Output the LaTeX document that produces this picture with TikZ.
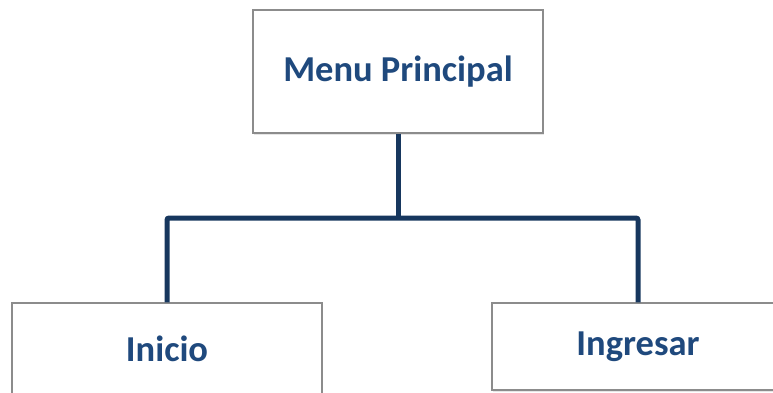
\documentclass[tikz,border=0pt]{standalone}
\usepackage{fontspec}
\setmainfont{Carlito}
\usetikzlibrary{shadows}

\definecolor{textblue}{RGB}{31,73,125}
\definecolor{linkblue}{RGB}{23,55,94}
\definecolor{boxgray}{RGB}{140,140,140}

\begin{document}
\begin{tikzpicture}[x=1pt,y=-1pt,
    box/.style={draw=boxgray,line width=1.5pt,fill=white,
      drop shadow={shadow xshift=1pt,shadow yshift=-2pt,opacity=0.2},
      font=\fontsize{36.5}{42}\selectfont\bfseries,text=textblue,
      inner sep=0pt},
    link/.style={draw=linkblue,line width=5pt,rounded corners=2pt}]
  \useasboundingbox (0,0) rectangle (773,392);

  \node[box,minimum width=290pt,minimum height=123pt]
    (menu) at (398,71.5) {Menu Principal};
  \node[box,minimum width=310pt,minimum height=92pt]
    (inicio) at (167,349) {Inicio};
  \node[box,minimum width=292pt,minimum height=87pt]
    (ingresar) at (638,346.5) {Ingresar};

  \coordinate (split) at (menu.south |- 0,218);

  \draw[link] (menu.south) -- (split);
  \draw[link] (inicio.north) |- (split) -| (ingresar.north);
\end{tikzpicture}
\end{document}
